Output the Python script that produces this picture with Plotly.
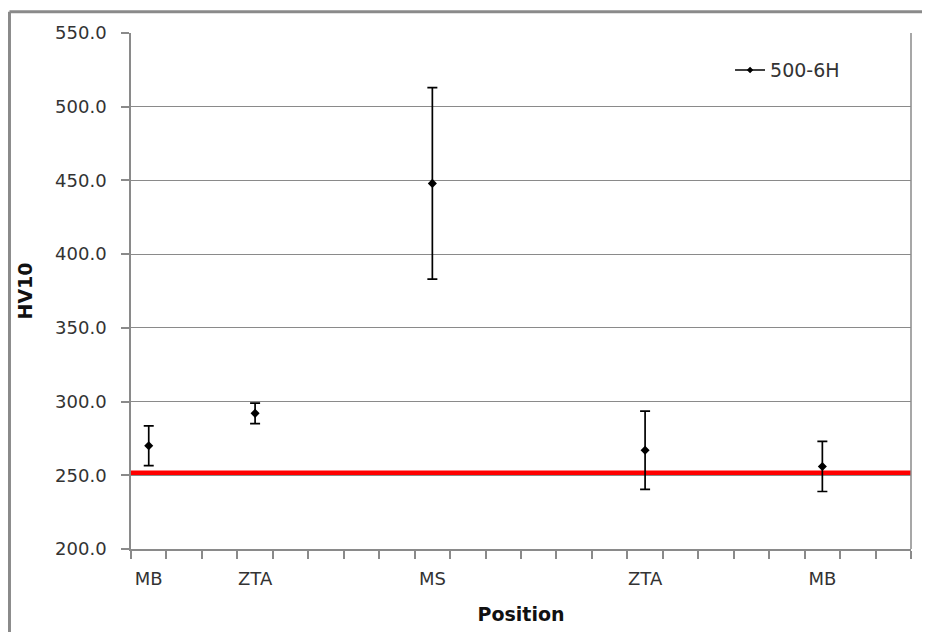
import plotly.graph_objects as go

# ---- data ----
positions = ["MB", "ZTA", "MS", "ZTA", "MB"]
slot_index = [0, 3, 8, 14, 19]          # category slot (of 22) holding each measurement
hv10_mean = [270.0, 292.0, 448.0, 267.0, 256.0]
hv10_err = [13.5, 7.0, 65.0, 26.5, 17.0]
reference_hv = 251.8
n_slots = 22
series_name = "500-6H"
y_ticks = [200, 250, 300, 350, 400, 450, 500, 550]

x_centers = [i + 0.5 for i in slot_index]

fig = go.Figure()

# red reference line
fig.add_trace(go.Scatter(
    x=[-0.1, n_slots], y=[reference_hv, reference_hv], mode="lines",
    line=dict(color="#ff0000", width=4.5), showlegend=False, hoverinfo="skip",
    cliponaxis=False,
))

# measurements with error bars
fig.add_trace(go.Scatter(
    x=x_centers, y=hv10_mean, mode="markers",
    marker=dict(symbol="diamond", size=7, color="black"),
    error_y=dict(type="data", array=hv10_err, visible=True, color="black",
                 thickness=1.7, width=5),
    showlegend=False,
))

# legend entry (line + marker)
fig.add_trace(go.Scatter(
    x=[None], y=[None], mode="lines+markers", name=series_name,
    line=dict(color="black", width=1.6),
    marker=dict(symbol="diamond", size=5, color="black"),
))

font_family = "DejaVu Sans, Verdana, sans-serif"
grid_col = "#8a8a8a"

fig.update_layout(
    width=922, height=624,
    margin=dict(l=123, r=19, t=25, b=83, autoexpand=False),
    paper_bgcolor="white", plot_bgcolor="white",
    font=dict(family=font_family, size=18, color="#333333"),
    showlegend=True,
    legend=dict(x=0.768, y=0.928, xanchor="left", yanchor="middle",
                bgcolor="rgba(0,0,0,0)", font=dict(size=19, color="#333333")),
    xaxis=dict(
        range=[0, n_slots], tickmode="array",
        tickvals=x_centers, ticktext=positions,
        ticks="", showgrid=False, zeroline=False,
        showline=True, linecolor=grid_col, linewidth=1.5,
        mirror=False, automargin=False,
        minor=dict(tickmode="array", tickvals=list(range(n_slots + 1)),
                   ticks="outside", ticklen=8, tickcolor=grid_col,
                   tickwidth=1.5, showgrid=False),
        ticklabelstandoff=13,
        title=dict(text="<b>Position</b>", font=dict(size=19, color="#111111"),
                   standoff=19),
    ),
    yaxis=dict(
        range=[200, 550], tickmode="array",
        tickvals=y_ticks,
        tickformat=".1f", automargin=False,
        ticks="outside", ticklen=8, tickcolor=grid_col, tickwidth=1.5,
        showgrid=True, gridcolor=grid_col, gridwidth=1.3,
        zeroline=False, showline=True, linecolor=grid_col, linewidth=1.5,
        ticklabelstandoff=11,
        title=dict(text="<b>HV10</b>", font=dict(size=19, color="#111111"),
                   standoff=17),
    ),
    shapes=[
        # right border of plot area
        dict(type="line", xref="paper", yref="paper", x0=1, x1=1, y0=0, y1=1,
             line=dict(color=grid_col, width=1.5)),
        # outer chart border (left and top edges)
        dict(type="line", xref="paper", yref="paper", x0=-0.1558, x1=-0.1558,
             y0=-0.2, y1=1.041, line=dict(color="#8a8a8a", width=3)),
        dict(type="line", xref="paper", yref="paper", x0=-0.1558, x1=1.1,
             y0=1.041, y1=1.041, line=dict(color="#8a8a8a", width=3)),
    ],
)

fig.write_html("out.html")
